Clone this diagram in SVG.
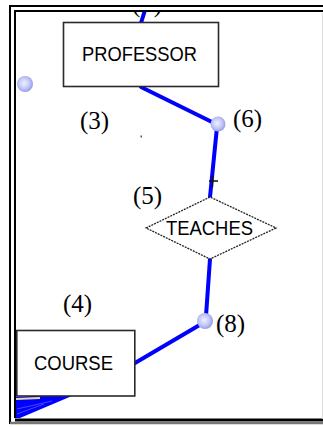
<svg xmlns="http://www.w3.org/2000/svg" width="323" height="427" viewBox="0 0 323 427">
<style>
.box{fill:#fff;stroke:#2a2a2a;stroke-width:1.6}
.dia{fill:#fff;stroke:#222;stroke-width:1.3;stroke-dasharray:2 1}
.lbl{font-family:"Liberation Sans",Arial,sans-serif;font-size:19.5px;fill:#000}
.num{font-family:"Liberation Serif","Times New Roman",serif;font-size:25px;fill:#000}
.con{stroke:#0000ff;stroke-width:4;fill:none;stroke-linecap:round}
.pt{fill:url(#pg)}
.frame{fill:none;stroke:#000;stroke-width:2}
</style>
<defs>
<radialGradient id="pg" cx="0.45" cy="0.45" r="0.6">
<stop offset="0" stop-color="#eef0ff"/>
<stop offset="0.55" stop-color="#c4c8f6"/>
<stop offset="1" stop-color="#8c92ea"/>
</radialGradient>
<clipPath id="inner"><rect x="16" y="12" width="307" height="406"/></clipPath>
</defs>
<rect width="323" height="427" fill="#fff"/>
<g clip-path="url(#inner)">
<g id="connectors">
<path class="con" d="M145 10 L141 23"/>
<path class="con" d="M141 87 L216 124"/>
<path class="con" d="M217 127 L210 197"/>
<path class="con" d="M210 259 L206 316"/>
<path class="con" d="M203 323 L135 363"/>
<path d="M62 332 L80 332" stroke="#0000ff" stroke-width="3.5" stroke-opacity="0.85"/>
<polygon points="79,393 16,397 16,418 20,418" fill="#0000ff"/>
<path d="M16 399 L40 398" stroke="#e6d6ae" stroke-width="2"/>
<path d="M52 401 L17 409 M44 404 L17 414" stroke="#fff" stroke-width="0.8" stroke-opacity="0.35"/>
<path d="M209 181 H218 M212.5 175.5 V187" stroke="#111" stroke-width="1.4"/>
<rect x="140.5" y="135.5" width="1.5" height="2" fill="#555"/>
</g>
<g id="professor">
<rect class="box" x="63.5" y="22.5" width="155" height="64"/>
<text class="lbl" x="82" y="61" textLength="115" lengthAdjust="spacingAndGlyphs">PROFESSOR</text>
</g>
<g id="teaches">
<polygon class="dia" points="146,228 210,197 276,228 210,259"/>
<text class="lbl" x="166" y="235" textLength="87" lengthAdjust="spacingAndGlyphs">TEACHES</text>
</g>
<g id="course">
<rect class="box" x="16.8" y="330.5" width="118" height="65.5"/>
<text class="lbl" x="34" y="370" textLength="79" lengthAdjust="spacingAndGlyphs">COURSE</text>
</g>
<g id="point-left"><circle class="pt" cx="25" cy="84" r="8"/></g>
<g id="point-6"><circle class="pt" cx="218" cy="124" r="7.5"/></g>
<g id="point-8"><circle class="pt" cx="205" cy="321" r="8"/></g>
<g id="labels">
<text class="num" x="132" y="11.5">(</text>
<text class="num" x="153.7" y="11.5">)</text>
<text class="num" x="80" y="129">(3)</text>
<text class="num" x="233" y="127">(6)</text>
<text class="num" x="133" y="204">(5)</text>
<text class="num" x="63" y="311.5">(4)</text>
<text class="num" x="216" y="332">(8)</text>
</g>
</g>
<g id="frame">
<path class="frame" d="M10 424 V6 H323"/>
<path class="frame" d="M15 418 V11 H323"/>
<path d="M15 420 H323" stroke="#000" stroke-width="3"/>
<path d="M10 423 H323" stroke="#777" stroke-width="2.5"/>
<path d="M322.5 13 V419" stroke="#ddd" stroke-width="1"/>
</g>
</svg>
